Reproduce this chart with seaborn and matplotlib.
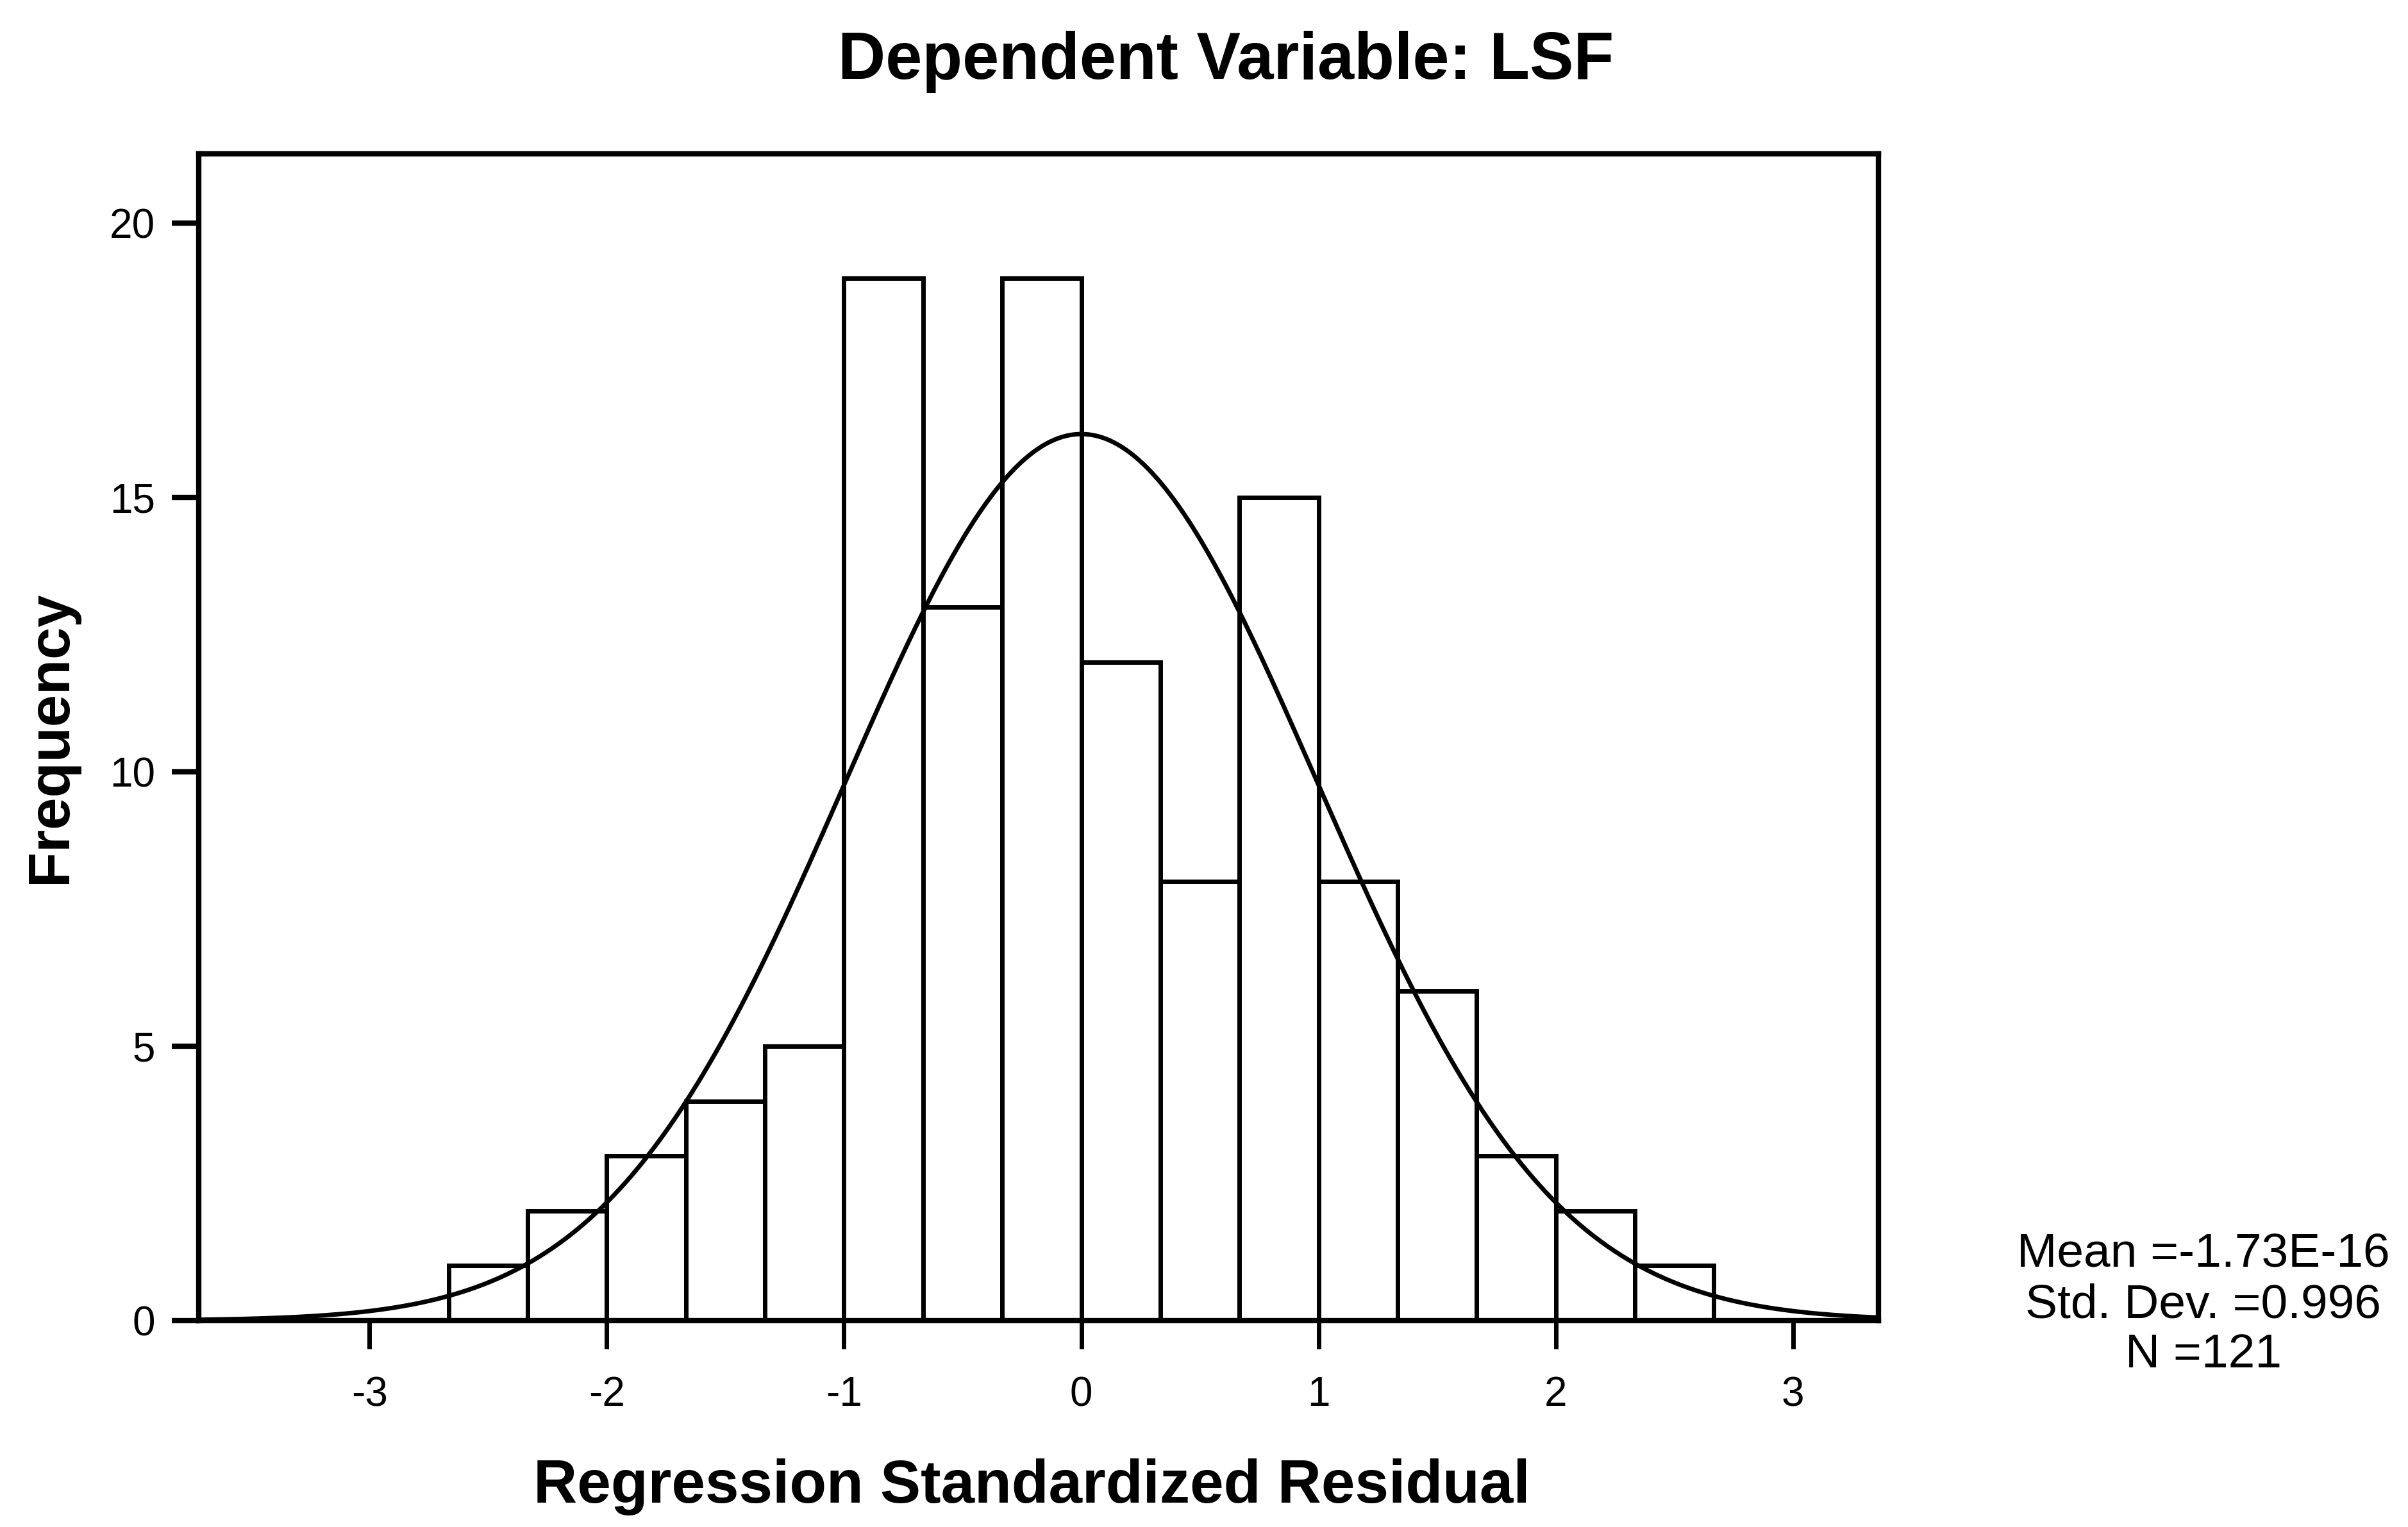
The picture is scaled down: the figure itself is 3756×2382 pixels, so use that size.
import numpy as np
import pandas as pd
import matplotlib
matplotlib.use("Agg")
import matplotlib.pyplot as plt
import seaborn as sns

# ---- data ----
bin_edges = [-8/3, -7/3, -6/3, -5/3, -4/3, -3/3, -2/3, -1/3, 0.0,
             1/3, 2/3, 3/3, 4/3, 5/3, 6/3, 7/3, 8/3]
counts = [1, 2, 3, 4, 5, 19, 13, 19, 12, 8, 15, 8, 6, 3, 2, 1]
stat_mean = -1.73e-16
stat_sd = 0.996
stat_n = 121
title = "Dependent Variable: LSF"
xlabel = "Regression Standardized Residual"
ylabel = "Frequency"
xticks = [-3, -2, -1, 0, 1, 2, 3]
yticks = [0, 5, 10, 15, 20]
stats_lines = ["Mean =-1.73E-16", "Std. Dev. =0.996", "N =121"]

sns.set_style("ticks")
plt.rcParams['font.family'] = ['Liberation Sans', 'DejaVu Sans']
plt.rcParams['text.color'] = 'black'
plt.rcParams['axes.labelcolor'] = 'black'

centers = [(a + b) / 2 for a, b in zip(bin_edges[:-1], bin_edges[1:])]
df = pd.DataFrame({"x": centers, "w": counts})

fig = plt.figure(figsize=(37.56, 23.82), dpi=100)
ax_left, ax_right, ax_bottom, ax_top = 0.0825, 0.7801, 0.1352, 0.8992
ax = fig.add_axes([ax_left, ax_bottom, ax_right - ax_left, ax_top - ax_bottom])

sns.histplot(data=df, x="x", weights="w", bins=bin_edges, ax=ax,
             color="white", edgecolor="black", linewidth=5, alpha=1)

xlim = (-3.72, 3.36)
binw = bin_edges[1] - bin_edges[0]
xs = np.linspace(xlim[0], xlim[1], 800)
ys = stat_n * binw * np.exp(-0.5 * ((xs - stat_mean) / stat_sd) ** 2) / (stat_sd * np.sqrt(2 * np.pi))
sns.lineplot(x=xs, y=ys, ax=ax, color="black", linewidth=5)

ax.set_xlim(*xlim)
ax.set_ylim(0, 21.26)
ax.set_xticks(xticks)
ax.set_xticklabels([str(t) for t in xticks])
ax.set_yticks(yticks)
ax.set_yticklabels([str(t) for t in yticks])
ax.tick_params(axis="x", direction="out", length=32, width=5,
               labelsize=46, pad=30, colors="black")
ax.tick_params(axis="y", direction="out", length=30, width=6,
               labelsize=46, pad=19, colors="black")
for s in ax.spines.values():
    s.set_visible(True)
    s.set_linewidth(6)
    s.set_color("black")

ax.set_xlabel(xlabel, fontsize=68, fontweight="bold", color="black")
ax.xaxis.set_label_coords(0.496, -0.118)
ax.set_ylabel(ylabel, fontsize=65, fontweight="bold", color="black")
ax.yaxis.set_label_coords(-0.0717, 0.5)

fig.text(0.509, 0.980, title, fontsize=74, fontweight="bold",
         ha="center", va="top", color="black")

fig.text(0.915, 0.1927, "\n".join(stats_lines),
         ha="center", va="top", fontsize=54, linespacing=1.17,
         multialignment="center", color="black")

fig.savefig("out.png", dpi=100, facecolor="white")
